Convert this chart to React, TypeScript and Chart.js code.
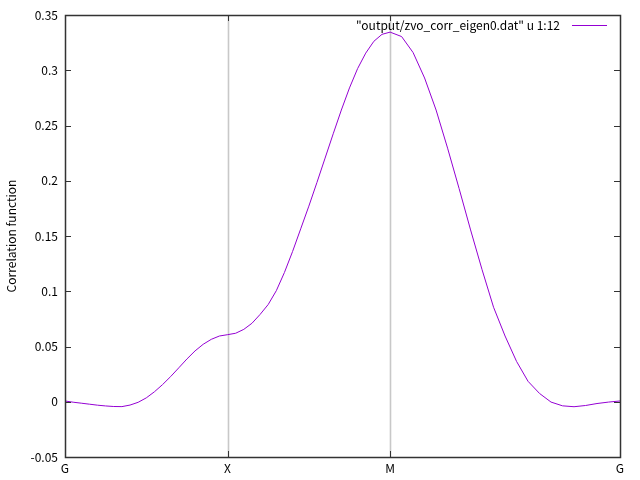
import { useEffect, useRef } from 'react';
import { Chart, registerables } from 'chart.js';

Chart.register(...registerables);

// Path coordinate along G -> X -> M -> G
const pathX = [
  0, 0.05, 0.1, 0.15, 0.2, 0.25, 0.3, 0.35, 0.4, 0.45, 0.5, 0.55, 0.6, 0.65, 0.7, 0.75, 0.8, 0.85, 0.9, 0.95, 1.0,
  1.05, 1.1, 1.15, 1.2, 1.25, 1.3, 1.35, 1.4, 1.45, 1.5, 1.55, 1.6, 1.65, 1.7, 1.75, 1.8, 1.85, 1.9, 1.95, 2.0,
  2.0707, 2.1414, 2.2121, 2.2828, 2.3536, 2.4243, 2.495, 2.5657, 2.6364, 2.7071, 2.7778, 2.8485, 2.9192, 2.99,
  3.0607, 3.1314, 3.2021, 3.2728, 3.3435, 3.4142,
];

// Correlation function values (column 12)
const corr = [
  0.0007, -0.0004, -0.0013, -0.0022, -0.0031, -0.0038, -0.0043, -0.0044, -0.003, -0.0005, 0.0035, 0.009, 0.0155,
  0.0228, 0.0307, 0.0387, 0.046, 0.052, 0.0565, 0.0595, 0.0607,
  0.062, 0.0655, 0.071, 0.079, 0.088, 0.1005, 0.117, 0.136, 0.1565, 0.177, 0.1985, 0.2205, 0.2425, 0.264, 0.284,
  0.3015, 0.3155, 0.3262, 0.3325, 0.3345,
  0.3305, 0.316, 0.293, 0.264, 0.2295, 0.193, 0.1555, 0.1195, 0.0855, 0.0595, 0.0365, 0.0185, 0.0075, -0.0003,
  -0.0037, -0.0045, -0.0034, -0.0016, -0.0003, 0.0007,
];

const xTickValues = [0, 1, 2, 3.4142];
const xTickLabels = ['G', 'X', 'M', 'G'];
const yTickValues = [-0.05, 0, 0.05, 0.1, 0.15, 0.2, 0.25, 0.3, 0.35];
const yTickLabels = ['-0.05', '0', '0.05', '0.1', '0.15', '0.2', '0.25', '0.3', '0.35'];
const seriesLabel = '"output/zvo_corr_eigen0.dat" u 1:12';
const yTitle = 'Correlation function';
const highSymLines = [1, 2];

const FONT = '"Noto Sans CJK JP", "Noto Sans", sans-serif';
const LINE_COLOR = '#9400d3';

const framePlugin = {
  id: 'gnuplotFrame',
  beforeDatasetsDraw(chart: any) {
    const { ctx, chartArea, scales } = chart;
    ctx.save();
    ctx.strokeStyle = '#c8c8c8';
    ctx.lineWidth = 1.6;
    for (const v of highSymLines) {
      const x = Math.round(scales.x.getPixelForValue(v)) + 0.5;
      ctx.beginPath();
      ctx.moveTo(x, chartArea.top);
      ctx.lineTo(x, chartArea.bottom);
      ctx.stroke();
    }
    ctx.restore();
  },
  afterDatasetsDraw(chart: any) {
    const { ctx, chartArea, scales } = chart;
    const { left, right, top, bottom } = chartArea;
    ctx.save();
    ctx.strokeStyle = '#333333';
    ctx.lineWidth = 1;
    const tl = 6;
    ctx.beginPath();
    for (const v of yTickValues) {
      const y = Math.round(scales.y.getPixelForValue(v)) + 0.5;
      ctx.moveTo(left, y);
      ctx.lineTo(left + tl, y);
      ctx.moveTo(right, y);
      ctx.lineTo(right - tl, y);
    }
    for (const v of xTickValues) {
      const x = Math.round(scales.x.getPixelForValue(v)) + 0.5;
      ctx.moveTo(x, bottom);
      ctx.lineTo(x, bottom - tl);
      ctx.moveTo(x, top);
      ctx.lineTo(x, top + tl);
    }
    ctx.stroke();
    ctx.lineWidth = 1.5;
    ctx.strokeRect(Math.round(left) + 0.5, Math.round(top) + 0.5, Math.round(right - left), Math.round(bottom - top));

    // key
    const ky = top + 10;
    ctx.font = `12px ${FONT}`;
    ctx.fillStyle = '#000';
    ctx.textAlign = 'right';
    ctx.textBaseline = 'middle';
    ctx.fillText(seriesLabel, right - 60, ky);
    ctx.strokeStyle = LINE_COLOR;
    ctx.lineWidth = 1.2;
    ctx.beginPath();
    ctx.moveTo(right - 48, ky + 0.5);
    ctx.lineTo(right - 13, ky + 0.5);
    ctx.stroke();
    ctx.restore();
  },
};

export default function App() {
  const ref = useRef<HTMLCanvasElement | null>(null);

  useEffect(() => {
    if (!ref.current) return;
    const chart = new Chart(ref.current, {
      type: 'line',
      data: {
        datasets: [
          {
            label: seriesLabel,
            data: pathX.map((x, i) => ({ x, y: corr[i] })),
            borderColor: LINE_COLOR,
            borderWidth: 1,
            pointRadius: 0,
            tension: 0,
            fill: false,
          },
        ],
      },
      options: {
        responsive: false,
        animation: false,
        layout: { padding: { top: 15, right: 20, left: 0, bottom: 0 } },
        plugins: { legend: { display: false }, tooltip: { enabled: false } },
        scales: {
          x: {
            type: 'linear',
            min: 0,
            max: 3.4142,
            afterBuildTicks: (s: any) => {
              s.ticks = xTickValues.map((v) => ({ value: v }));
            },
            afterFit: (s: any) => {
              s.height = 23;
            },
            ticks: {
              autoSkip: false,
              maxRotation: 0,
              padding: 4,
              color: '#000',
              font: { family: FONT, size: 12 },
              callback: (_v: any, i: number) => xTickLabels[i],
            },
            grid: { display: false, drawTicks: false },
            border: { display: false },
          },
          y: {
            type: 'linear',
            min: -0.05,
            max: 0.35,
            afterBuildTicks: (s: any) => {
              s.ticks = yTickValues.map((v) => ({ value: v }));
            },
            afterFit: (s: any) => {
              s.width = 65;
            },
            ticks: {
              autoSkip: false,
              padding: 7,
              color: '#000',
              font: { family: FONT, size: 12 },
              callback: (_v: any, i: number) => yTickLabels[i],
            },
            grid: { display: false, drawTicks: false },
            border: { display: false },
            title: {
              display: true,
              text: yTitle,
              color: '#000',
              font: { family: FONT, size: 12 },
              padding: { top: 4, bottom: 0 },
            },
          },
        },
      },
      plugins: [framePlugin],
    } as any);
    return () => chart.destroy();
  }, []);

  return (
    <div style={{ position: 'fixed', left: 0, top: 0, width: 640, height: 480, background: '#fff' }}>
      <canvas ref={ref} width={640} height={480} style={{ display: 'block' }} />
    </div>
  );
}
